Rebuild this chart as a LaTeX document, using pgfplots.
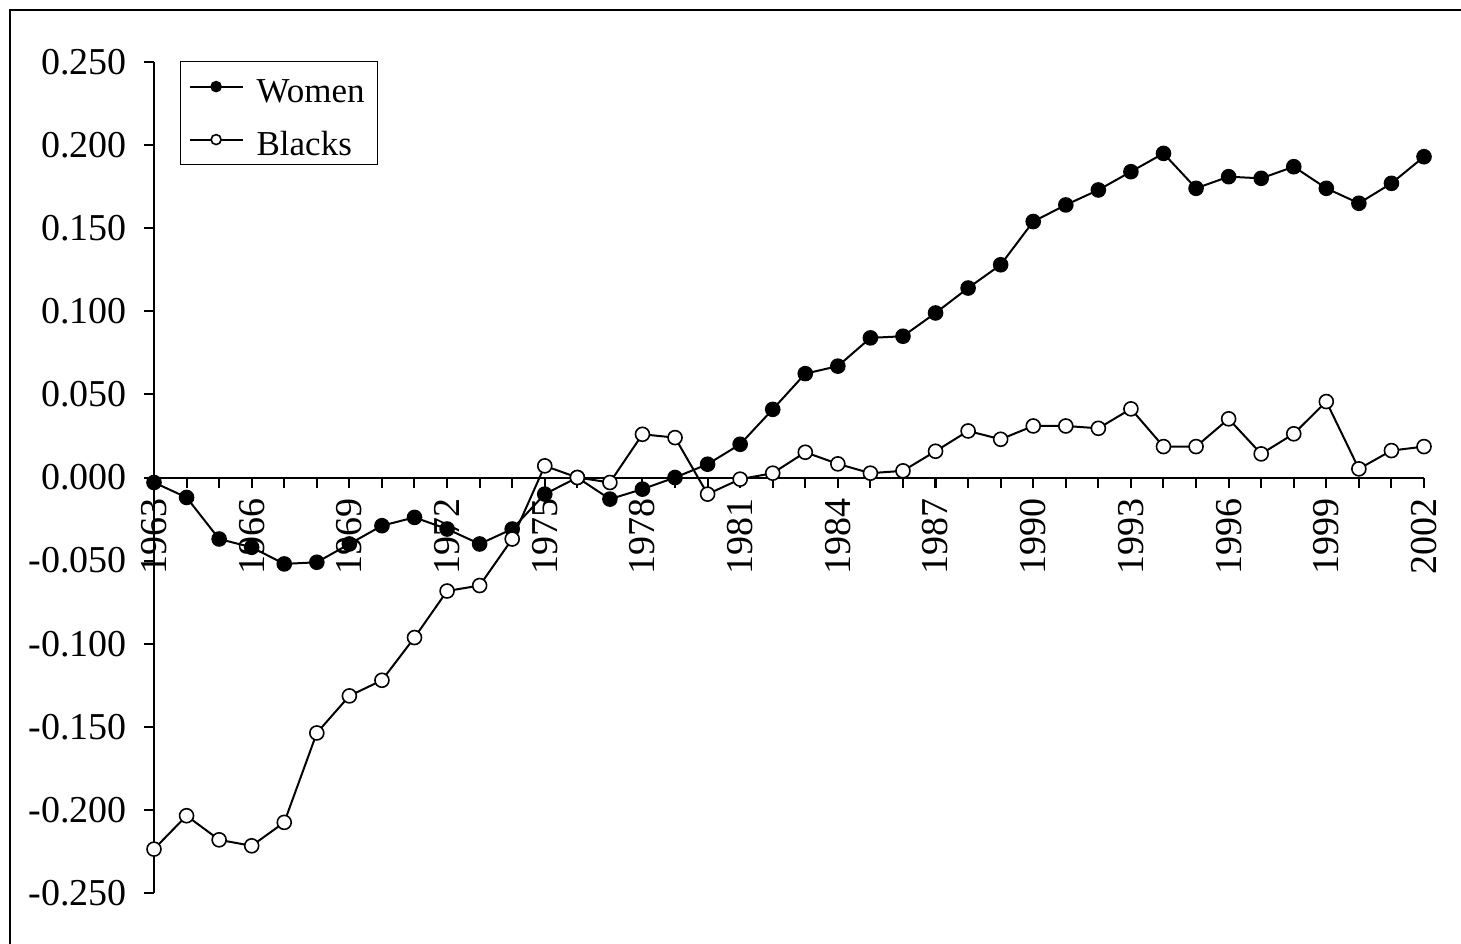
\documentclass[border=0pt]{standalone}
\usepackage{fontspec}
\setmainfont{Liberation Serif}
\usepackage{pgfplots}
\usepackage{pgfplotstable}
\pgfplotsset{compat=1.18}
\pgfplotstableread{
year women blacks
1963 -0.003 -0.2236
1964 -0.012 -0.2035
1965 -0.037 -0.218
1966 -0.042 -0.2216
1967 -0.052 -0.2075
1968 -0.051 -0.1537
1969 -0.040 -0.1314
1970 -0.029 -0.122
1971 -0.024 -0.0963
1972 -0.031 -0.0683
1973 -0.040 -0.065
1974 -0.031 -0.037
1975 -0.010 0.007
1976 0.000 0.000
1977 -0.013 -0.003
1978 -0.007 0.026
1979 0.000 0.024
1980 0.008 -0.010
1981 0.020 -0.001
1982 0.041 0.0026
1983 0.0625 0.0152
1984 0.067 0.0082
1985 0.084 0.0026
1986 0.085 0.004
1987 0.099 0.0158
1988 0.114 0.028
1989 0.128 0.023
1990 0.154 0.031
1991 0.164 0.031
1992 0.173 0.0296
1993 0.184 0.0413
1994 0.195 0.0186
1995 0.174 0.0186
1996 0.181 0.0353
1997 0.180 0.0142
1998 0.187 0.0263
1999 0.174 0.0457
2000 0.165 0.0052
2001 0.177 0.0162
2002 0.193 0.0186
}\datatable
\begin{document}
\fontsize{17.5}{21}\selectfont
\begin{tikzpicture}
\path[use as bounding box] (-77pt,-25pt) rectangle (653.5pt,446.5pt);
\draw[line width=1pt] (-71.75pt,-40pt) -- (-71.75pt,441.25pt) -- (700pt,441.25pt);
\begin{axis}[
  at={(0,0)}, anchor=south west,
  scale only axis, width=635pt, height=415.5pt,
  xmin=1963, xmax=2002, ymin=-0.25, ymax=0.25,
  clip=false,
  axis x line=middle, axis y line=left,
  hide obscured x ticks=false, hide obscured y ticks=false,
  every inner x axis line/.append style={-},
  every outer y axis line/.append style={-},
  axis line style={line width=1pt, black, -},
  tick align=outside,
  major tick length=5pt, minor tick length=5pt,
  tick style={line width=1pt, black},
  minor tick style={line width=1pt, black},
  xtick={1963,1966,...,2002}, minor xtick={1963,...,2002},
  xticklabels={1963,1966,1969,1972,1975,1978,1981,1984,1987,1990,1993,1996,1999,2002},
  ytick={-0.25,-0.2,-0.15,-0.1,-0.05,0,0.05,0.1,0.15,0.2,0.25},
  yticklabels={-0.250,-0.200,-0.150,-0.100,-0.050,0.000,0.050,0.100,0.150,0.200,0.250},
  xticklabel style={rotate=90, anchor=east, inner sep=0pt, xshift=-5.5pt, font=\fontsize{19}{23}\selectfont},
  yticklabel style={anchor=east, inner sep=0pt, xshift=-8.5pt, font=\fontsize{19}{23}\selectfont},
  legend style={at={(0,1)}, anchor=north west, xshift=13pt, yshift=0.5pt,
    draw=black, line width=0.6pt, font=\fontsize{17.5}{21}\selectfont,
    inner xsep=4pt, inner ysep=0pt, row sep=1.5pt,
    nodes={inner xsep=2.5pt, inner ysep=0pt, text height=20.5pt, text depth=4.5pt},
    /tikz/every odd column/.append style={column sep=4pt}},
  legend cell align=left,
  legend image code/.code={\draw[mark repeat=2,mark phase=2,#1,mark size=2.5pt] plot coordinates {(0pt,0pt)(13.25pt,0pt)(26.5pt,0pt)};},
]
\addplot[black, line width=1pt, mark=*, mark size=3.5pt, mark options={fill=black, line width=0.8pt}] table[x=year, y=women] {\datatable};
\addlegendentry{Women}
\addplot[black, line width=1pt, mark=*, mark size=3.5pt, mark options={fill=white, line width=0.8pt}] table[x=year, y=blacks] {\datatable};
\addlegendentry{Blacks}
\end{axis}
\end{tikzpicture}
\end{document}
